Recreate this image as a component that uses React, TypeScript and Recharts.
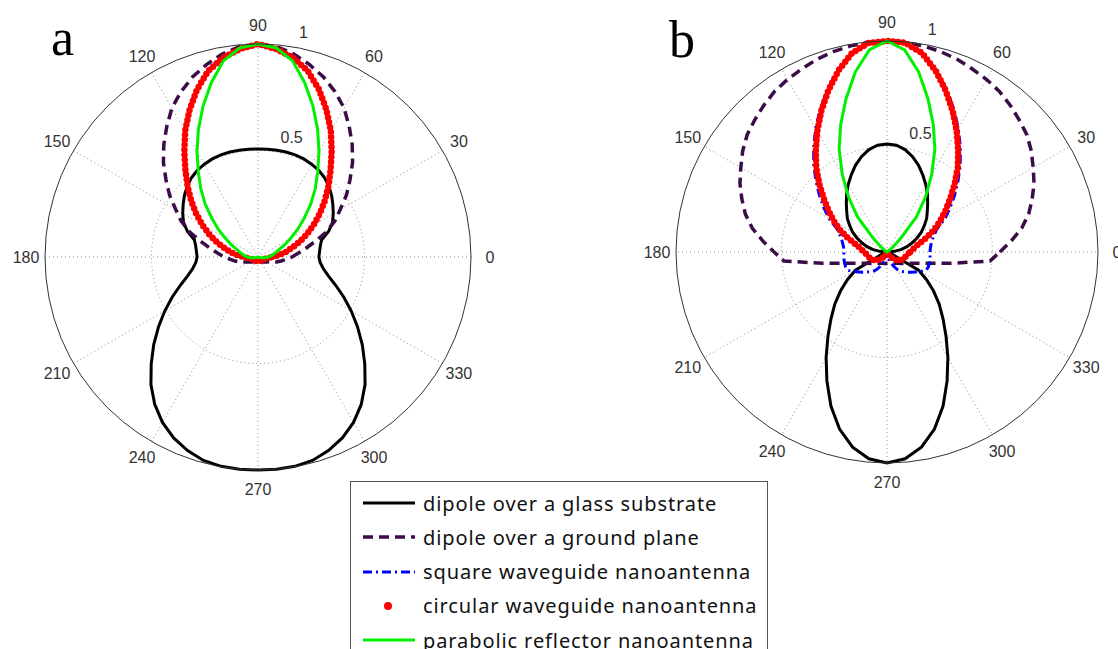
import React from 'react'
import { RadarChart, Radar, PolarGrid, PolarAngleAxis, PolarRadiusAxis } from 'recharts'

// angle samples, degrees counter-clockwise from the 0° direction
const ANGLES = [
  0, 5, 10, 15, 20, 25, 30, 35, 40, 45, 50, 55, 60, 65, 70, 75, 80, 85,
  90, 95, 100, 105, 110, 115, 120, 125, 130, 135, 140, 145, 150, 155, 160, 165, 170, 175,
  180, 185, 190, 195, 200, 205, 210, 215, 220, 225, 230, 235, 240, 245, 250, 255, 260, 265,
  270, 275, 280, 285, 290, 295, 300, 305, 310, 315, 320, 325, 330, 335, 340, 345, 350, 355,
]
const SPOKE_ANGLES = [0, 30, 60, 90, 120, 150, 180, 210, 240, 270, 300, 330]
const RADIUS_LABELS = [0.5, 1]

// ---- panel a : normalised radiation patterns ----
const glassA = [
  0.286, 0.29, 0.297, 0.309, 0.353, 0.386, 0.408, 0.429, 0.451, 0.47, 0.486, 0.497, 0.503, 0.508, 0.51, 0.51, 0.509, 0.508, 0.507,
  0.508, 0.509, 0.51, 0.51, 0.508, 0.503, 0.497, 0.486, 0.47, 0.451, 0.429, 0.408, 0.386, 0.353, 0.309, 0.297, 0.29, 0.286,
  0.293, 0.311, 0.342, 0.388, 0.444, 0.505, 0.57, 0.639, 0.709, 0.782, 0.845, 0.897, 0.937, 0.967, 0.989, 0.998, 1.0,
  1.0,
  1.0, 0.998, 0.989, 0.967, 0.937, 0.897, 0.845, 0.782, 0.709, 0.639, 0.57, 0.505, 0.444, 0.388, 0.342, 0.311, 0.293,
]
const groundA = [
  0.16, 0.187, 0.226, 0.275, 0.34, 0.398, 0.446, 0.507, 0.564, 0.628, 0.688, 0.747, 0.808, 0.856, 0.899, 0.935, 0.968, 0.992, 1.0,
  0.992, 0.968, 0.935, 0.899, 0.856, 0.808, 0.747, 0.688, 0.628, 0.564, 0.507, 0.446, 0.398, 0.34, 0.275, 0.226, 0.187, 0.16,
  0.13, 0.11, 0.09, 0.067, 0.054, 0.046, 0.04, 0.036, 0.033, 0.03, 0.028, 0.027, 0.026, 0.025, 0.024, 0.024, 0.023,
  0.023,
  0.023, 0.024, 0.024, 0.025, 0.026, 0.027, 0.028, 0.03, 0.033, 0.036, 0.04, 0.046, 0.054, 0.067, 0.09, 0.11, 0.13,
]
const squareA = [
  0.066, 0.096, 0.128, 0.162, 0.204, 0.25, 0.3, 0.354, 0.41, 0.47, 0.535, 0.608, 0.689, 0.766, 0.842, 0.908, 0.953, 0.982, 1.0,
  0.982, 0.953, 0.908, 0.842, 0.766, 0.689, 0.608, 0.535, 0.47, 0.41, 0.354, 0.3, 0.25, 0.204, 0.162, 0.128, 0.096, 0.066,
  0.05, 0.04, 0.034, 0.03, 0.028, 0.026, 0.025, 0.024, 0.023, 0.022, 0.022, 0.021, 0.021, 0.02, 0.02, 0.02, 0.02,
  0.02,
  0.02, 0.02, 0.02, 0.02, 0.021, 0.021, 0.022, 0.022, 0.023, 0.024, 0.025, 0.026, 0.028, 0.03, 0.034, 0.04, 0.05,
]
const circularA = [
  0.065, 0.098, 0.131, 0.164, 0.207, 0.253, 0.302, 0.354, 0.409, 0.467, 0.53, 0.603, 0.684, 0.761, 0.837, 0.904, 0.95, 0.98, 1.0,
  0.98, 0.95, 0.904, 0.837, 0.761, 0.684, 0.603, 0.53, 0.467, 0.409, 0.354, 0.302, 0.253, 0.207, 0.164, 0.131, 0.098, 0.065,
  0.05, 0.04, 0.034, 0.03, 0.028, 0.026, 0.025, 0.024, 0.023, 0.022, 0.022, 0.021, 0.021, 0.02, 0.02, 0.02, 0.02,
  0.02,
  0.02, 0.02, 0.02, 0.02, 0.021, 0.021, 0.022, 0.022, 0.023, 0.024, 0.025, 0.026, 0.028, 0.03, 0.034, 0.04, 0.05,
]
const parabolicA = [
  0.05, 0.062, 0.074, 0.088, 0.108, 0.14, 0.178, 0.228, 0.283, 0.35, 0.418, 0.489, 0.573, 0.662, 0.754, 0.847, 0.935, 0.985, 1.0,
  0.985, 0.935, 0.847, 0.754, 0.662, 0.573, 0.489, 0.418, 0.35, 0.283, 0.228, 0.178, 0.14, 0.108, 0.088, 0.074, 0.062, 0.05,
  0.035, 0.02, 0.01, 0, 0, 0, 0, 0, 0, 0, 0, 0, 0, 0, 0, 0, 0,
  0,
  0, 0, 0, 0, 0, 0, 0, 0, 0, 0, 0, 0, 0, 0, 0.01, 0.02, 0.035,
]

// ---- panel b ----
const glassB = [
  0, 0.035, 0.07, 0.098, 0.127, 0.157, 0.188, 0.215, 0.245, 0.27, 0.3, 0.334, 0.368, 0.402, 0.437, 0.468, 0.493, 0.508, 0.512,
  0.508, 0.493, 0.468, 0.437, 0.402, 0.368, 0.334, 0.3, 0.27, 0.245, 0.215, 0.188, 0.157, 0.127, 0.098, 0.07, 0.035, 0,
  0, 0, 0, 0, 0.03, 0.173, 0.229, 0.288, 0.35, 0.413, 0.488, 0.577, 0.674, 0.777, 0.869, 0.939, 0.984,
  1.0,
  0.984, 0.939, 0.869, 0.777, 0.674, 0.577, 0.488, 0.413, 0.35, 0.288, 0.229, 0.173, 0.03, 0, 0, 0, 0,
]
const groundB = [
  0.535, 0.59, 0.648, 0.695, 0.732, 0.769, 0.8, 0.835, 0.865, 0.886, 0.908, 0.929, 0.944, 0.957, 0.972, 0.983, 0.992, 0.998, 1.0,
  0.998, 0.992, 0.983, 0.972, 0.957, 0.944, 0.929, 0.908, 0.886, 0.865, 0.835, 0.8, 0.769, 0.732, 0.695, 0.648, 0.59, 0.535,
  0.49, 0.309, 0.207, 0.157, 0.127, 0.107, 0.094, 0.084, 0.076, 0.07, 0.066, 0.062, 0.059, 0.057, 0.056, 0.055, 0.054,
  0.054,
  0.054, 0.055, 0.056, 0.057, 0.059, 0.062, 0.066, 0.07, 0.076, 0.084, 0.094, 0.107, 0.127, 0.157, 0.207, 0.309, 0.49,
]
const squareB = [
  0.204, 0.206, 0.212, 0.222, 0.238, 0.262, 0.318, 0.365, 0.418, 0.476, 0.54, 0.606, 0.676, 0.748, 0.822, 0.895, 0.96, 0.995, 1.0,
  0.995, 0.96, 0.895, 0.822, 0.748, 0.676, 0.606, 0.54, 0.476, 0.418, 0.365, 0.318, 0.262, 0.238, 0.222, 0.212, 0.206, 0.204,
  0.205, 0.207, 0.208, 0.208, 0.205, 0.185, 0.165, 0.15, 0.135, 0.122, 0.11, 0.095, 0.075, 0.055, 0.035, 0.02, 0.008,
  0,
  0.008, 0.02, 0.035, 0.055, 0.075, 0.095, 0.11, 0.122, 0.135, 0.15, 0.165, 0.185, 0.205, 0.208, 0.208, 0.207, 0.205,
]
const circularB = [
  0.11, 0.12, 0.135, 0.16, 0.2, 0.245, 0.29, 0.337, 0.39, 0.453, 0.522, 0.588, 0.661, 0.737, 0.814, 0.89, 0.957, 0.995, 1.0,
  0.995, 0.957, 0.89, 0.814, 0.737, 0.661, 0.588, 0.522, 0.453, 0.39, 0.337, 0.29, 0.245, 0.2, 0.16, 0.135, 0.12, 0.11,
  0.1, 0.095, 0.09, 0.086, 0.082, 0.076, 0.068, 0.058, 0.048, 0.038, 0.028, 0.02, 0.012, 0.006, 0.002, 0, 0,
  0,
  0, 0, 0.002, 0.006, 0.012, 0.02, 0.028, 0.038, 0.048, 0.058, 0.068, 0.076, 0.082, 0.086, 0.09, 0.095, 0.1,
]
const parabolicB = [
  0, 0, 0, 0, 0, 0, 0, 0.012, 0.035, 0.092, 0.217, 0.318, 0.424, 0.537, 0.642, 0.751, 0.866, 0.961, 1.0,
  0.961, 0.866, 0.751, 0.642, 0.537, 0.424, 0.318, 0.217, 0.092, 0.035, 0.012, 0, 0, 0, 0, 0, 0, 0,
  0, 0, 0, 0, 0, 0, 0, 0, 0, 0, 0, 0, 0, 0, 0, 0, 0,
  0,
  0, 0, 0, 0, 0, 0, 0, 0, 0, 0, 0, 0, 0, 0, 0, 0, 0,
]

const SERIES_KEYS = ['glass', 'ground', 'square', 'circular', 'parabolic'] as const
const SERIES_LABELS = [
  'dipole over a glass substrate',
  'dipole over a ground plane',
  'square waveguide nanoantenna',
  'circular waveguide nanoantenna',
  'parabolic reflector nanoantenna',
]

type Key = typeof SERIES_KEYS[number]

const LINE_STYLE: Record<Key, any> = {
  glass: { stroke: '#000000', strokeWidth: 3 },
  ground: { stroke: '#3a0c48', strokeWidth: 3.5, strokeDasharray: '10 6' },
  square: { stroke: '#0000ff', strokeWidth: 3, strokeDasharray: '9 4 2 4' },
  circular: { stroke: '#ff0000', strokeWidth: 6.5, strokeDasharray: '0 5', strokeLinecap: 'round' },
  parabolic: { stroke: '#00f000', strokeWidth: 3 },
}

const buildTable = (cols: Record<Key, number[]>) =>
  ANGLES.map((angle, i) => {
    const row: any = { angle }
    SERIES_KEYS.forEach(k => { row[k] = cols[k][i] })
    return row
  })

const dataA = buildTable({ glass: glassA, ground: groundA, square: squareA, circular: circularA, parabolic: parabolicA })
const dataB = buildTable({ glass: glassB, ground: groundB, square: squareB, circular: circularB, parabolic: parabolicB })

const TICK_FONT = '"Liberation Sans", Arial, sans-serif'

const renderAngleTick = (props: any) => {
  const { x, y, payload } = props
  const v = Number(payload.value)
  if (!SPOKE_ANGLES.includes(v)) return <g />
  return (
    <text x={x} y={y} textAnchor="middle" dominantBaseline="central"
          fontFamily={TICK_FONT} fontSize={16} fill="#333">{v}</text>
  )
}

// only 0.5 and 1 are labelled along the 80° ray
const renderRadiusTick = (props: any) => {
  const { x, y, payload } = props
  const v = Number(payload.value)
  const label = RADIUS_LABELS.find(l => Math.abs(l - v) < 1e-6)
  if (label === undefined) return <g />
  return (
    <text x={x + 4} y={y - 15} textAnchor="start" dominantBaseline="central"
          fontFamily={TICK_FONT} fontSize={16} fill="#333">{label}</text>
  )
}

function PolarPanel({ data, width, height, cx, cy, radius }: {
  data: any[]; width: number; height: number; cx: number; cy: number; radius: number
}) {
  return (
    <RadarChart width={width} height={height} data={data} cx={cx} cy={cy}
                outerRadius={radius} startAngle={0} endAngle={360}
                margin={{ top: 0, right: 0, bottom: 0, left: 0 }}>
      <PolarGrid gridType="circle" polarAngles={SPOKE_ANGLES} polarRadius={[radius * 0.5]}
                 stroke="#8c8c8c" strokeDasharray="1 3" />
      <PolarAngleAxis dataKey="angle" type="number" domain={[0, 360]} tickCount={13}
                      tickSize={19} tickLine={false} stroke="#333" axisLineType="circle"
                      axisLine={{ stroke: '#333', strokeWidth: 1 }} tick={renderAngleTick} />
      <PolarRadiusAxis angle={80} type="number" domain={[0, 1]} tickCount={3} allowDecimals
                       axisLine={false} tickLine={false} tick={renderRadiusTick} />
      {SERIES_KEYS.map(k => (
        <Radar key={k} dataKey={k} fill="none" fillOpacity={0} dot={false}
               isAnimationActive={false} {...LINE_STYLE[k]} />
      ))}
    </RadarChart>
  )
}

function LegendSwatch({ k }: { k: Key }) {
  const s = LINE_STYLE[k]
  if (k === 'circular') {
    return <svg width={54} height={12}><circle cx={26} cy={6} r={4} fill={s.stroke} /></svg>
  }
  return (
    <svg width={54} height={12}>
      <line x1={1} y1={6} x2={53} y2={6} stroke={s.stroke} strokeWidth={s.strokeWidth}
            strokeDasharray={s.strokeDasharray} />
    </svg>
  )
}

export default function App() {
  return (
    <div style={{ position: 'absolute', left: 0, top: 0, width: 1118, height: 649,
                  overflow: 'hidden', background: '#fff' }}>
      <div style={{ position: 'absolute', left: 0, top: 0 }}>
        <PolarPanel data={dataA} width={540} height={520} cx={258} cy={257} radius={213} />
      </div>
      <div style={{ position: 'absolute', left: 560, top: 0 }}>
        <PolarPanel data={dataB} width={558} height={520} cx={327} cy={252} radius={211} />
      </div>

      <div style={{ position: 'absolute', left: 51, top: 8, fontFamily: '"Liberation Serif", serif',
                    fontSize: 52, lineHeight: '60px', color: '#000' }}>a</div>
      <div style={{ position: 'absolute', left: 669, top: 10, fontFamily: '"Liberation Serif", serif',
                    fontSize: 52, lineHeight: '60px', color: '#000' }}>b</div>

      <div style={{ position: 'absolute', left: 350, top: 481, width: 418, height: 200,
                    border: '1px solid #555', background: '#fff', boxSizing: 'border-box' }}>
        {SERIES_KEYS.map((k, i) => (
          <div key={k} style={{ position: 'absolute', left: 11, top: 6 + i * 34.3, height: 30,
                                display: 'flex', alignItems: 'center' }}>
            <LegendSwatch k={k} />
            <span style={{ marginLeft: 7, fontFamily: '"Noto Sans", "Open Sans", sans-serif',
                           fontSize: 20, letterSpacing: 0.9, color: '#111', whiteSpace: 'nowrap' }}>
              {SERIES_LABELS[i]}
            </span>
          </div>
        ))}
      </div>
    </div>
  )
}
